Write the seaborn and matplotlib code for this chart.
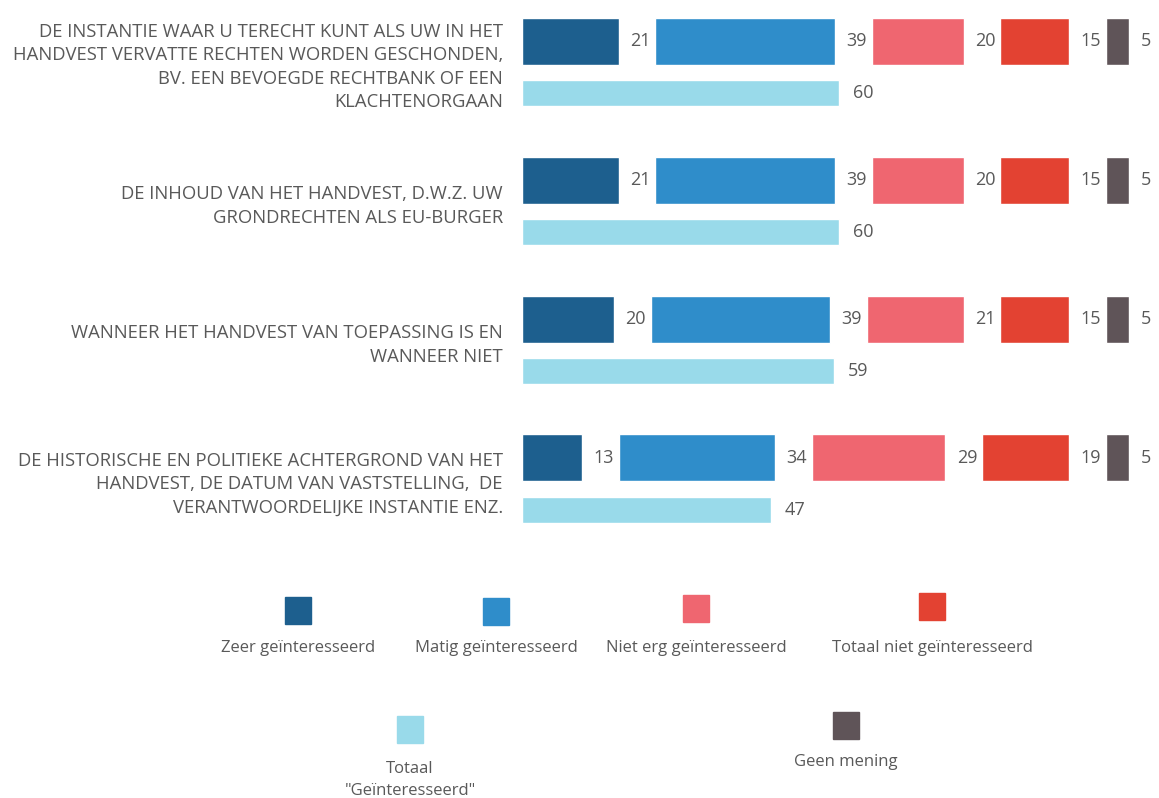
import numpy as np
import pandas as pd
import matplotlib
matplotlib.use("Agg")
import matplotlib.pyplot as plt
from matplotlib.patches import Rectangle
import seaborn as sns

# Onderwerpen (labels links)
onderwerpen = [
    "DE INSTANTIE WAAR U TERECHT KUNT ALS UW IN HET\nHANDVEST VERVATTE RECHTEN WORDEN GESCHONDEN,\nBV. EEN BEVOEGDE RECHTBANK OF EEN\nKLACHTENORGAAN",
    "DE INHOUD VAN HET HANDVEST, D.W.Z. UW\nGRONDRECHTEN ALS EU-BURGER",
    "WANNEER HET HANDVEST VAN TOEPASSING IS EN\nWANNEER NIET",
    "DE HISTORISCHE EN POLITIEKE ACHTERGROND VAN HET\nHANDVEST, DE DATUM VAN VASTSTELLING,  DE\nVERANTWOORDELIJKE INSTANTIE ENZ.",
]

# Waarden (%)
zeer = [21, 21, 20, 13]
matig = [39, 39, 39, 34]
niet_erg = [20, 20, 21, 29]
totaal_niet = [15, 15, 15, 19]
geen_mening = [5, 5, 5, 5]
totaal_geinteresseerd = [60, 60, 59, 47]

reeksen = ["Zeer geïnteresseerd", "Matig geïnteresseerd", "Niet erg geïnteresseerd",
           "Totaal niet geïnteresseerd", "Geen mening"]
kleuren = {
    "Zeer geïnteresseerd": "#1d5f8e",
    "Matig geïnteresseerd": "#2f8dca",
    "Niet erg geïnteresseerd": "#ef6670",
    "Totaal niet geïnteresseerd": "#e34232",
    "Geen mening": "#5f5458",
    "Totaal \"Geïnteresseerd\"": "#99daea",
}

sns.set_theme(style="white")
plt.rcParams['font.family'] = ['Open Sans', 'DejaVu Sans']
tekstkleur = "#595959"

W, H = 1159, 798
fig = plt.figure(figsize=(W / 100, H / 100), dpi=100)

# Hoofd-as: 1 eenheid = 4.6 px horizontaal, 1 groep = 139 px verticaal
px_x = 4.6
px_groep = 139.0
ax_links, ax_hoogte = 522, 545
ax = fig.add_axes([ax_links / W, 1 - ax_hoogte / H, 1 - ax_links / W, ax_hoogte / H])
ax.set_xlim(0, (W - ax_links) / px_x)
ax.set_ylim((ax_hoogte - 41) / px_groep, -41 / px_groep)
ax.axis("off")

gat = 8           # ruimte tussen segmenten (eenheden)
schaal_totaal = 1.15
h_boven, h_totaal, dy_totaal = 47 / px_groep, 26 / px_groep, 52 / px_groep

df = pd.DataFrame({
    "Zeer geïnteresseerd": zeer,
    "Matig geïnteresseerd": matig,
    "Niet erg geïnteresseerd": niet_erg,
    "Totaal niet geïnteresseerd": totaal_niet,
    "Geen mening": geen_mening,
})

for i, rij in df.iterrows():
    links = 0
    for r in reeksen:
        v = rij[r]
        ax.barh(i, v, left=links, height=h_boven, color=kleuren[r])
        ax.text(links + v + 2.5, i, f"{v}", ha="left", va="center",
                fontsize=13, color=tekstkleur)
        links += v + gat
    t = totaal_geinteresseerd[i]
    ax.barh(i + dy_totaal, t * schaal_totaal, height=h_totaal,
            color=kleuren["Totaal \"Geïnteresseerd\""])
    ax.text(t * schaal_totaal + 3, i + dy_totaal, f"{t}", ha="left", va="center",
            fontsize=13, color=tekstkleur)
    ax.text(-19 / px_x, i + dy_totaal / 2, onderwerpen[i], ha="right", va="center",
            fontsize=13.3, color=tekstkleur, linespacing=1.38, clip_on=False)

# Legenda in pixelcoördinaten
lg = fig.add_axes([0, 0, 1, 1])
lg.set_xlim(0, W)
lg.set_ylim(H, 0)
lg.axis("off")
lg.patch.set_alpha(0)

legenda = [
    ("Zeer geïnteresseerd", 298, 610, 648),
    ("Matig geïnteresseerd", 496, 611, 648),
    ("Niet erg geïnteresseerd", 696, 608, 648),
    ("Totaal niet geïnteresseerd", 932, 606, 648),
    ("Totaal \"Geïnteresseerd\"", 410, 729, 780),
    ("Geen mening", 846, 725, 762),
]
for naam, xc, yc, yt in legenda:
    lg.add_patch(Rectangle((xc - 13, yc - 13.5), 26, 27, color=kleuren[naam]))
    label = "Totaal\n\"Geïnteresseerd\"" if naam.startswith("Totaal \"") else naam
    lg.text(xc, yt, label, ha="center", va="center", fontsize=12,
            color=tekstkleur, linespacing=1.5)

fig.savefig("out.png", dpi=100, facecolor="white")
